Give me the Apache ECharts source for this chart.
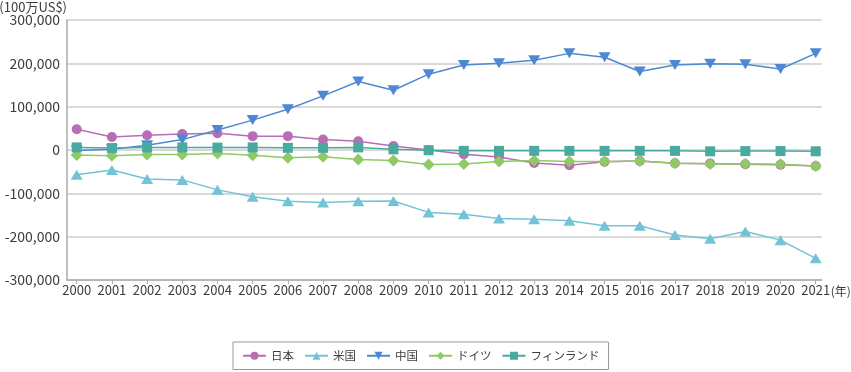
<!DOCTYPE html>
<html>
<head>
<meta charset="utf-8">
<script src="https://cdn.jsdelivr.net/npm/echarts@6/dist/echarts.min.js"></script>
<style>
html,body{margin:0;padding:0;background:#fff;}
#c{width:851px;height:372px;}
</style>
</head>
<body>
<div id="c"></div>
<script>
const years = [2000, 2001, 2002, 2003, 2004, 2005, 2006, 2007, 2008, 2009, 2010, 2011, 2012, 2013, 2014, 2015, 2016, 2017, 2018, 2019, 2020, 2021];
const japan = [48000, 30000, 34000, 37000, 38500, 32000, 32000, 24000, 20000, 9000, 0, -10000, -16000, -30000, -35000, -27000, -25500, -30500, -31000, -33000, -34000, -37000];
const usa = [-57000, -46000, -67000, -69000, -92000, -108000, -118000, -121000, -118000, -117500, -144000, -148000, -158000, -160000, -163000, -175000, -175000, -196000, -205000, -188000, -208000, -250000];
const china = [-1000, 2000, 11000, 24000, 46000, 69000, 94000, 125000, 158000, 138000, 175000, 196000, 200000, 207000, 223000, 214000, 181000, 196000, 199000, 198000, 187000, 223000];
const germany = [-11500, -13500, -10500, -10500, -8000, -12000, -18000, -15500, -22000, -24000, -33500, -32500, -26500, -24500, -26500, -26500, -25500, -30500, -32500, -32000, -33000, -37000];
const finland = [6000, 4500, 6000, 6000, 5500, 6000, 5000, 5000, 6000, 1500, -500, -2000, -2000, -2000, -2000, -2000, -2000, -2000, -3000, -2500, -2500, -3000];
const seriesNames = ['日本', '米国', '中国', 'ドイツ', 'フィンランド'];
const yTicks = [-300000, -200000, -100000, 0, 100000, 200000, 300000];

const FONT = '"Noto Sans CJK JP", "Noto Sans", sans-serif';
const TXT = '#3c3c3c';

function pairs(vals) { return years.map((y, i) => [y, vals[i]]); }

const styles = [
  { data: japan, color: '#b96db5', symbol: 'circle', size: 10, rotate: 0 },
  { data: usa, color: '#72c3d8', symbol: 'triangle', size: [12, 10], rotate: 0 },
  { data: china, color: '#4d88d2', symbol: 'triangle', size: [12, 10], rotate: 180 },
  { data: germany, color: '#8fca66', symbol: 'diamond', size: [12, 12], rotate: 0 },
  { data: finland, color: '#4aaaa0', symbol: 'rect', size: [10, 10], rotate: 0 }
];

const chart = echarts.init(document.getElementById('c'), null, { renderer: 'canvas' });
chart.setOption({
  animation: false,
  backgroundColor: '#fff',
  textStyle: { fontFamily: FONT },
  grid: { left: 67, right: 29.3, top: 20, bottom: 92, containLabel: false, outerBoundsMode: 'none' },
  xAxis: {
    type: 'value',
    min: 1999.724,
    max: 2021.17,
    name: '(年)',
    nameLocation: 'end',
    nameGap: 9,
    nameMoveOverlap: false,
    nameTextStyle: { color: TXT, fontSize: 12, fontFamily: FONT, verticalAlign: 'top', padding: [5, 0, 0, 0] },
    axisLine: { show: true, onZero: false, lineStyle: { color: '#aaaaaa', width: 1.5 } },
    axisTick: { show: true, customValues: years, length: 4, lineStyle: { color: '#aaaaaa', width: 1 } },
    axisLabel: { customValues: years, color: TXT, fontSize: 13, fontFamily: FONT, margin: 4, formatter: v => String(v) },
    splitLine: { show: false }
  },
  yAxis: {
    type: 'value',
    min: yTicks[0],
    max: yTicks[yTicks.length - 1],
    interval: 100000,
    name: '(100万US$)',
    nameLocation: 'end',
    nameGap: 6,
    nameMoveOverlap: false,
    nameTextStyle: { color: TXT, fontSize: 13, fontFamily: FONT, align: 'right', verticalAlign: 'bottom', padding: [0, 0, 0, 0] },
    axisLine: { show: true, onZero: false, lineStyle: { color: '#aaaaaa', width: 1.5 } },
    axisTick: { show: false },
    axisLabel: { color: TXT, fontSize: 14, fontFamily: FONT, margin: 7, formatter: v => v.toLocaleString('en-US') },
    splitLine: { show: true, lineStyle: { color: '#cccccc', width: 1.5 } }
  },
  legend: {
    data: seriesNames,
    left: 233,
    top: 342,
    orient: 'horizontal',
    borderColor: '#999999',
    borderWidth: 1,
    padding: [8, 9, 8, 9],
    itemWidth: 23,
    itemHeight: 10,
    itemGap: 10,
    textStyle: { color: TXT, fontSize: 11.5, fontFamily: FONT }
  },
  series: styles.map((s, i) => ({
    name: seriesNames[i],
    type: 'line',
    data: pairs(s.data),
    symbol: s.symbol,
    symbolSize: s.size,
    symbolRotate: s.rotate,
    showAllSymbol: true,
    lineStyle: { color: s.color, width: 1.5 },
    itemStyle: { color: s.color },
    emphasis: { disabled: true }
  }))
});
</script>
</body>
</html>
